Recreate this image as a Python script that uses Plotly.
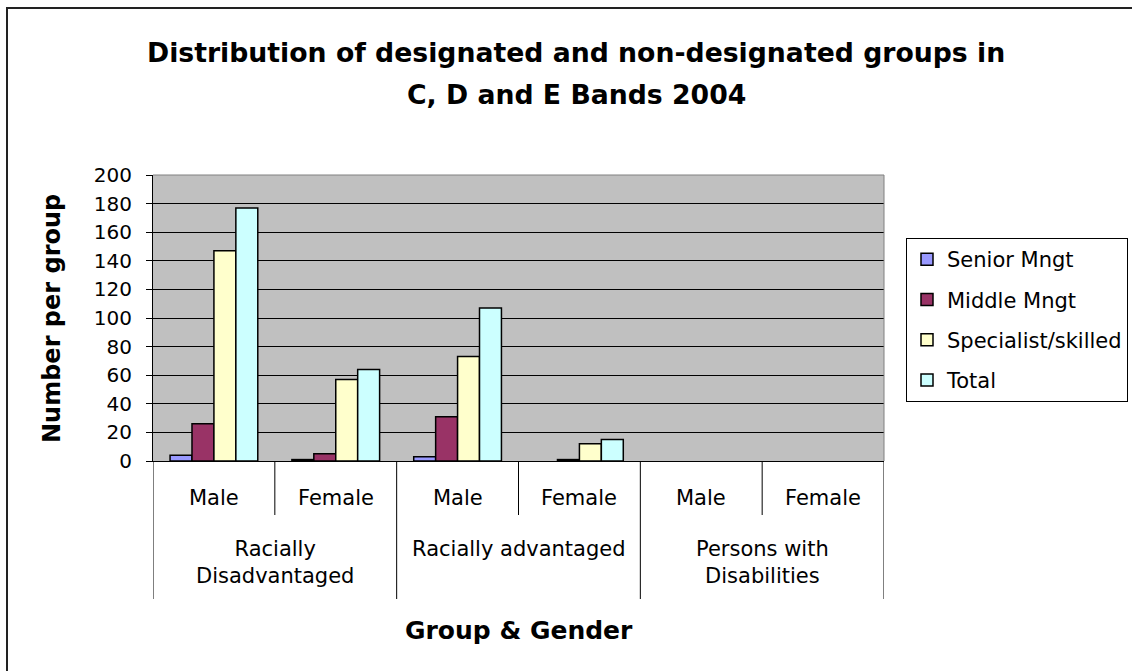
import plotly.graph_objects as go

# data
genders = ["Male", "Female", "Male", "Female", "Male", "Female"]
groups = ["Racially<br>Disadvantaged", "Racially advantaged", "Persons with<br>Disabilities"]
senior_mngt = [4, 1, 3, 0, 0, 0]
middle_mngt = [26, 5, 31, 1, 0, 0]
specialist = [147, 57, 73, 12, 0, 0]
total = [177, 64, 107, 15, 0, 0]
y_ticks = list(range(0, 201, 20))
title_lines = ["Distribution of designated and non-designated groups in", "C, D and E Bands 2004"]

series_names = ["Senior Mngt", "Middle Mngt", "Specialist/skilled", "Total"]
series_values = [senior_mngt, middle_mngt, specialist, total]
series_colors = ["#9999FF", "#993366", "#FFFFCC", "#CCFFFF"]

FONT = "DejaVu Sans"
W, H = 1132, 671
L, R, T, B = 153, 248, 175, 210
PW, PH = W - L - R, H - T - B


def px(x):
    # pixel column -> paper x
    return (x - L) / PW


def py(y):
    # pixel row -> paper y
    return (H - B - y) / PH


xs = list(range(len(genders)))

fig = go.Figure()
for name, vals, col in zip(series_names, series_values, series_colors):
    fig.add_trace(go.Bar(
        x=xs,
        y=vals,
        name=name,
        legendgroup=name,
        # no outline on empty bars, like the original
        marker=dict(color=col, line=dict(color="black",
                                         width=[1.5 if v > 0 else 0 for v in vals])),
    ))

shapes = []
# category dividers under the axis
for k in range(len(genders) + 1):
    bottom = py(599) if k % 2 == 0 else py(515)
    shapes.append(dict(type="line", xref="x", yref="paper", x0=k - 0.5, x1=k - 0.5,
                       y0=0, y1=bottom, line=dict(color="black", width=1)))
# grey top/right edge of the plot area
shapes.append(dict(type="line", xref="paper", yref="paper", x0=0, x1=1, y0=1, y1=1,
                   line=dict(color="#808080", width=1)))
shapes.append(dict(type="line", xref="paper", yref="paper", x0=1, x1=1, y0=0, y1=1,
                   line=dict(color="#808080", width=1)))
# outer chart frame
shapes.append(dict(type="rect", xref="paper", yref="paper", x0=px(7), x1=px(1180),
                   y0=py(720), y1=py(8), line=dict(color="#222222", width=2)))

annotations = []
for i, g in enumerate(genders):
    annotations.append(dict(x=i, y=py(498), xref="x", yref="paper", text=g,
                            showarrow=False, yanchor="middle",
                            font=dict(family=FONT, size=21, color="black")))
for j, grp in enumerate(groups):
    annotations.append(dict(x=2 * j + 0.5, y=py(535), xref="x", yref="paper", text=grp,
                            showarrow=False, yanchor="top", align="center",
                            font=dict(family=FONT, size=21, color="black")))
for line, ypix in zip(title_lines, [53, 95]):
    annotations.append(dict(x=px(576), y=py(ypix), xref="paper", yref="paper",
                            text="<b>" + line + "</b>", showarrow=False,
                            xanchor="center", yanchor="middle",
                            font=dict(family=FONT, size=26.7, color="black")))
annotations.append(dict(x=px(52), y=0.5, xref="paper", yref="paper",
                        text="<b>Number per group</b>", textangle=-90, showarrow=False,
                        xanchor="center", yanchor="middle",
                        font=dict(family=FONT, size=24, color="black")))
annotations.append(dict(x=0.5, y=py(630), xref="paper", yref="paper",
                        text="<b>Group & Gender</b>", showarrow=False,
                        xanchor="center", yanchor="middle",
                        font=dict(family=FONT, size=25, color="black")))

fig.update_layout(
    width=W,
    height=H,
    margin=dict(l=L, r=R, t=T, b=B, autoexpand=False),
    paper_bgcolor="white",
    plot_bgcolor="#C0C0C0",
    barmode="group",
    bargap=0.28,
    bargroupgap=0,
    showlegend=True,
    legend=dict(
        x=px(906), y=py(238), xanchor="left", yanchor="top",
        bgcolor="white", bordercolor="black", borderwidth=1,
        font=dict(family=FONT, size=21, color="black"),
        tracegroupgap=10,
    ),
    shapes=shapes,
    annotations=annotations,
    font=dict(family=FONT, color="black"),
)

fig.update_xaxes(
    range=[-0.5, len(genders) - 0.5],
    showticklabels=False,
    showgrid=False,
    zeroline=False,
    showline=True,
    linecolor="black",
    linewidth=1,
    ticks="",
)
fig.update_yaxes(
    range=[0, 200],
    tickvals=y_ticks,
    showgrid=True,
    gridcolor="black",
    gridwidth=1,
    zeroline=False,
    showline=True,
    linecolor="black",
    linewidth=1,
    ticks="outside",
    ticklen=6,
    tickcolor="black",
    ticklabelstandoff=10,
    tickfont=dict(family=FONT, size=20, color="black"),
)

fig.write_html("out.html", config={"displayModeBar": False},
               post_script="document.body.style.margin='0';")
